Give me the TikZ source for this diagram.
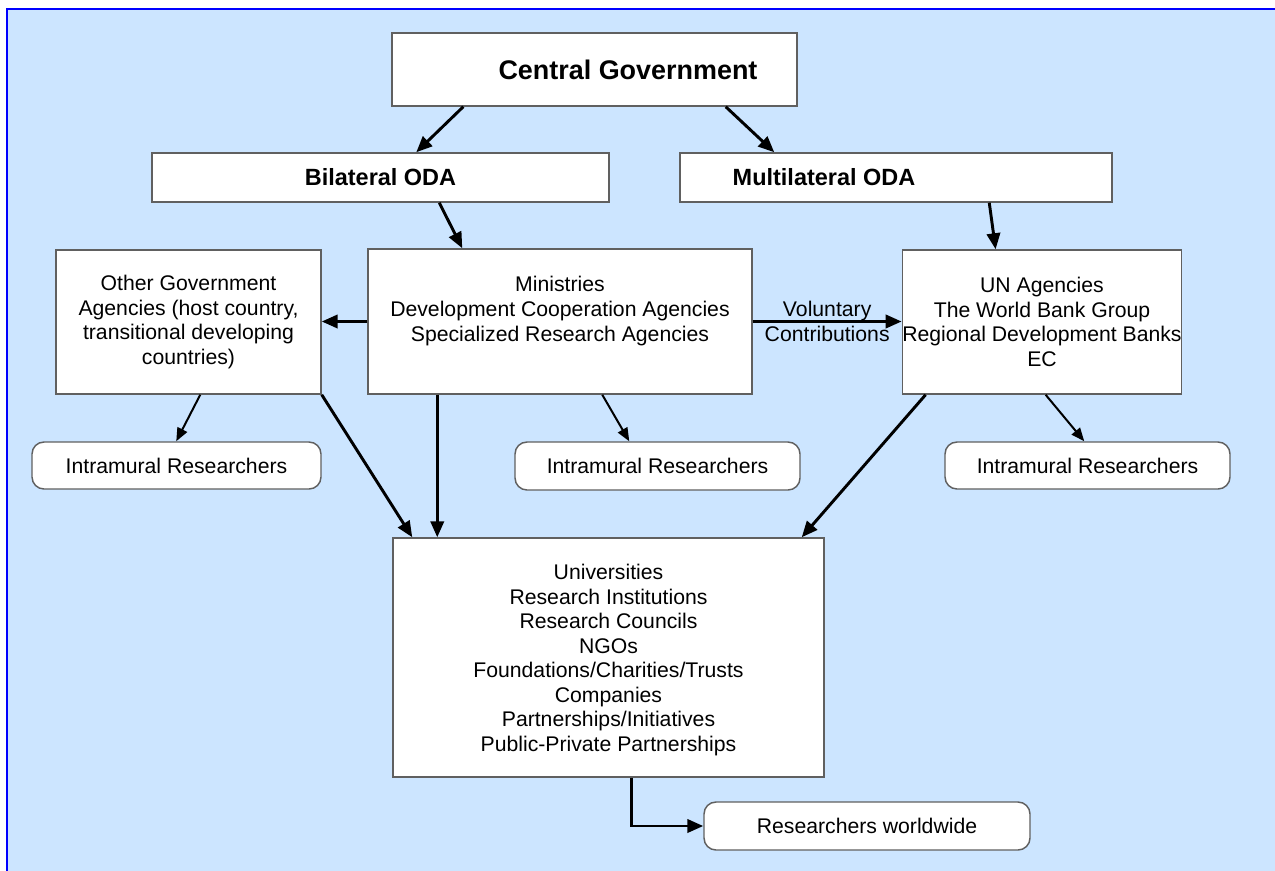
\documentclass[tikz,border=0pt]{standalone}
\usepackage{fontspec}
\setmainfont{Liberation Sans}
\usetikzlibrary{arrows.meta,calc}
\definecolor{bgblue}{HTML}{CCE5FF}
\definecolor{edgeblue}{HTML}{0000FF}
\definecolor{boxline}{HTML}{606060}
\begin{document}
\begin{tikzpicture}[x=0.75pt,y=-0.75pt,
  box/.style={draw=boxline, line width=1.1pt, fill=white, inner sep=0pt, align=center,
    font=\fontsize{15.9}{18.4}\selectfont},
  rbox/.style={box, rounded corners=9pt},
  txt/.style={inner sep=0pt, align=center, font=\fontsize{15.9}{18.4}\selectfont},
  arr/.style={line width=2.2pt, -{Triangle[length=12pt,width=10pt]}},
  tarr/.style={line width=1.5pt, -{Triangle[length=10pt,width=8pt]}}]
\useasboundingbox (0,0) rectangle (1275,871);
\fill[bgblue] (7,9) rectangle (1275,871);
\draw[edgeblue, line width=2pt] (7,871) -- (7,9) -- (1275,9);

\node[box, minimum width={405*0.75pt}, minimum height={73*0.75pt}] (central) at (594.5,69.5) {};
\node[txt, font=\bfseries\fontsize{20.2}{24}\selectfont] (centtxt) at (628,69.5) {Central Government};
\node[box, minimum width={457*0.75pt}, minimum height={49*0.75pt}, font=\bfseries\fontsize{17.6}{21}\selectfont] (bil) at (380.5,177.5) {Bilateral ODA};
\node[box, minimum width={432*0.75pt}, minimum height={49*0.75pt}] (multi) at (896,177.5) {};
\node[txt, font=\bfseries\fontsize{17.6}{21}\selectfont] (multitxt) at (824,177.5) {Multilateral ODA};

\node[box, minimum width={265*0.75pt}, minimum height={144*0.75pt}] (other) at (188.5,322) {Other Government\\Agencies (host country,\\transitional developing\\countries)};
\node[box, minimum width={384*0.75pt}, minimum height={145*0.75pt}] (mid) at (560,321.5) {};
\node[txt] (midtxt) at (560,311) {Ministries\\Development Cooperation Agencies\\Specialized Research Agencies};
\node[box, minimum width={242*0.75pt}, minimum height={144*0.75pt}] (un) at (1042,322) {UN Agencies\\The World Bank Group\\Regional Development Banks\\EC};

\node[rbox, minimum width={289*0.75pt}, minimum height={47*0.75pt}] (intr1) at (176.5,465.5) {Intramural Researchers};
\node[rbox, minimum width={285*0.75pt}, minimum height={48*0.75pt}] (intr2) at (657.5,466) {Intramural Researchers};
\node[rbox, minimum width={285*0.75pt}, minimum height={47*0.75pt}] (intr3) at (1087.5,465.5) {Intramural Researchers};

\node[box, minimum width={431*0.75pt}, minimum height={239*0.75pt}] (big) at (608.5,657.5) {};
\node[txt] (bigtxt) at (608.5,660) {Universities\\Research Institutions\\Research Councils\\NGOs\\Foundations/Charities/Trusts\\Companies\\Partnerships/Initiatives\\Public-Private Partnerships};
\node[rbox, minimum width={326*0.75pt}, minimum height={48*0.75pt}] (rw) at (867,826) {Researchers worldwide};

\draw[arr] ([xshift=72*0.75pt]central.south west) -- ([xshift=265*0.75pt]bil.north west);
\draw[arr] ([xshift=-72*0.75pt]central.south east) -- ([xshift=95*0.75pt]multi.north west);
\draw[arr] ([xshift=288*0.75pt]bil.south west) -- ([xshift=95*0.75pt]mid.north west);
\draw[arr] ([xshift=310*0.75pt]multi.south west) -- ([xshift=94*0.75pt]un.north west);
\draw[arr] (mid.west) -- (mid.west -| other.east);
\draw[arr] (mid.east) -- node[txt] (vc) {Voluntary\\Contributions} (mid.east -| un.west);
\draw[tarr] ([xshift=145*0.75pt]other.south west) -- ([xshift=145*0.75pt]intr1.north west);
\draw[tarr] ([xshift=235*0.75pt]mid.south west) -- ([xshift=115*0.75pt]intr2.north west);
\draw[tarr] ([xshift=144*0.75pt]un.south west) -- ([xshift=140*0.75pt]intr3.north west);
\draw[arr] (other.south east) -- ([xshift=20*0.75pt]big.north west);
\draw[arr] ([xshift=70*0.75pt]mid.south west) -- ([xshift=45*0.75pt]big.north west);
\draw[arr] ([xshift=24*0.75pt]un.south west) -- ([xshift=-23*0.75pt]big.north east);
\draw[arr] ([xshift=239*0.75pt]big.south west) |- (rw.west);
\end{tikzpicture}
\end{document}
